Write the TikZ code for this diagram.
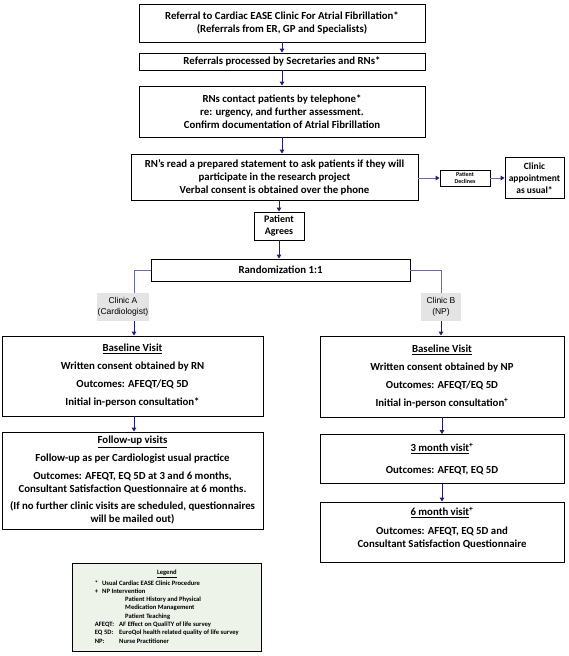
\documentclass[tikz,border=0pt]{standalone}
\usepackage{fontspec}
\setmainfont{Carlito}
\newfontfamily\arialf{Liberation Sans}
\usetikzlibrary{arrows.meta}
\definecolor{navy}{HTML}{1F1F78}
\definecolor{slate}{HTML}{6A6AB4}
\definecolor{lblgray}{HTML}{E4E4E4}
\definecolor{leggreen}{HTML}{EEF3E9}
\begin{document}
\begin{tikzpicture}[x=1pt,y=-1pt,
  box/.style={draw=black, line width=0.9pt, align=center, inner sep=2pt, font=\bfseries\fontsize{10.8}{13}\selectfont},
  arr/.style={draw=navy, line width=1pt, -{Triangle[length=4pt,width=4.5pt]}},
  arrmix/.style={draw=slate, line width=1pt, -{Triangle[length=4pt,width=4.5pt,color=navy]}},
  conn/.style={draw=slate, line width=1pt},
  lbl/.style={fill=lblgray, align=center, inner sep=1pt, font=\arialf\fontsize{8.5}{10.5}\selectfont}]
\useasboundingbox (0,0) rectangle (568,656);
\fill[white] (0,0) rectangle (568,656);

\node[box, minimum width=286pt, minimum height=38pt] (b1) at (282,23) {Referral to Cardiac EASE Clinic For Atrial Fibrillation*\\(Referrals from ER, GP and Specialists)};
\node[box, minimum width=286pt, minimum height=17pt] (b2) at (282,61.5) {Referrals processed by Secretaries and RNs*};
\node[box, minimum width=286pt, minimum height=51pt] (b3) at (282,111.5) {RNs contact patients by telephone*\\re: urgency, and further assessment.\\Confirm documentation of Atrial Fibrillation};
\node[box, minimum width=287pt, minimum height=46pt] (b4) at (274.5,177) {RN’s read a prepared statement to ask patients if they will\\participate in the research project\\Verbal consent is obtained over the phone};
\node[box, font=\bfseries\fontsize{6}{6.5}\selectfont, minimum width=50pt, minimum height=16pt, inner sep=1pt] (pd) at (465,178) {Patient\\Declines};
\node[box, font=\bfseries\fontsize{9.5}{12}\selectfont, minimum width=59pt, minimum height=41pt, inner sep=1pt] (cl) at (534.5,178) {Clinic\\appointment\\as usual*};
\node[box, font=\bfseries\fontsize{10}{12}\selectfont, minimum width=50pt, minimum height=28pt] (pa) at (279,226) {Patient\\Agrees};
\node[box, minimum width=259pt, minimum height=22pt] (rd) at (280.5,270) {Randomization 1:1};
\node[lbl, minimum width=47pt, minimum height=28pt] (ca) at (123,307) {Clinic A\\(Cardiologist)};
\node[lbl, minimum width=40pt, minimum height=28pt] (cb) at (441,307) {Clinic B\\(NP)};

\node[box, minimum width=261pt, minimum height=80pt] (bla) at (132.5,376) {\underline{Baseline Visit}\\[5pt] Written consent obtained by RN\\[5pt] Outcomes: AFEQT/EQ 5D\\[5pt] Initial in-person consultation*};
\node[box, minimum width=261pt, minimum height=97pt] (fu) at (132.5,480.5) {\underline{Follow-up visits}\\[5pt] Follow-up as per Cardiologist usual practice\\[5pt] Outcomes: AFEQT, EQ 5D at 3 and 6 months,\\ Consultant Satisfaction Questionnaire at 6 months.\\[4pt] (If no further clinic visits are scheduled, questionnaires\\ will be mailed out)};

\node[box, minimum width=244pt, minimum height=81pt] (blb) at (442,376.5) {\underline{Baseline Visit}\\[5pt] Written consent obtained by NP\\[5pt] Outcomes: AFEQT/EQ 5D\\[5pt] Initial in-person consultation\textsuperscript{+}};
\node[box, minimum width=244pt, minimum height=49pt] (m3) at (442,459) {\underline{3 month visit}\textsuperscript{+}\\[9pt] Outcomes: AFEQT, EQ 5D};
\node[box, minimum width=244pt, minimum height=60pt] (m6) at (442,532) {\underline{6 month visit}\textsuperscript{+}\\[6pt] Outcomes: AFEQT, EQ 5D and\\ Consultant Satisfaction Questionnaire\\[-4pt]\mbox{}};

\node[draw=black, line width=0.6pt, fill=leggreen, minimum width=189pt, minimum height=88pt, inner sep=3pt, anchor=north west, font=\bfseries\fontsize{6.6}{8.3}\selectfont, align=left] (lg) at (72,563) {%
\begin{tabular}{@{}l@{\hspace{5pt}}l@{}}
\multicolumn{2}{c}{\underline{Legend}}\\[2pt]
\multicolumn{2}{@{}l@{}}{*\hspace{4pt}Usual Cardiac EASE Clinic Procedure}\\
\multicolumn{2}{@{}l@{}}{+\hspace{4pt}NP Intervention}\\
 & \hspace{6pt}Patient History and Physical\\
 & \hspace{6pt}Medication Management\\
 & \hspace{6pt}Patient Teaching\\
AFEQT: & AF Effect on QualiTY of life survey\\
EQ 5D: & EuroQol health related quality of life survey\\
NP: & Nurse Practitioner
\end{tabular}};

\draw[arr] (b1) -- (b2);
\draw[arr] (b2) -- (b3);
\draw[arr] (b3.south) -- (b3.south |- b4.north);
\draw[arr] (pa.north |- b4.south) -- (pa.north);
\draw[arr] (pa.south) -- (pa.south |- rd.north);
\draw[arrmix] (b4.east |- pd.west) -- (pd.west);
\draw[arrmix] (pd.east) -- (pd.east -| cl.west);
\coordinate (caX) at (134,0);
\draw[conn] (rd.west) -| (caX |- ca.north);
\draw[arr] (caX |- ca.south) -- (caX |- bla.north);
\draw[conn] (rd.east) -| (cb.north);
\draw[arr] (cb.south) -- (cb.south |- blb.north);
\draw[arr] (caX |- bla.south) -- (caX |- fu.north);
\draw[arr] (blb) -- (m3);
\draw[arr] (m3) -- (m6);
\end{tikzpicture}
\end{document}
